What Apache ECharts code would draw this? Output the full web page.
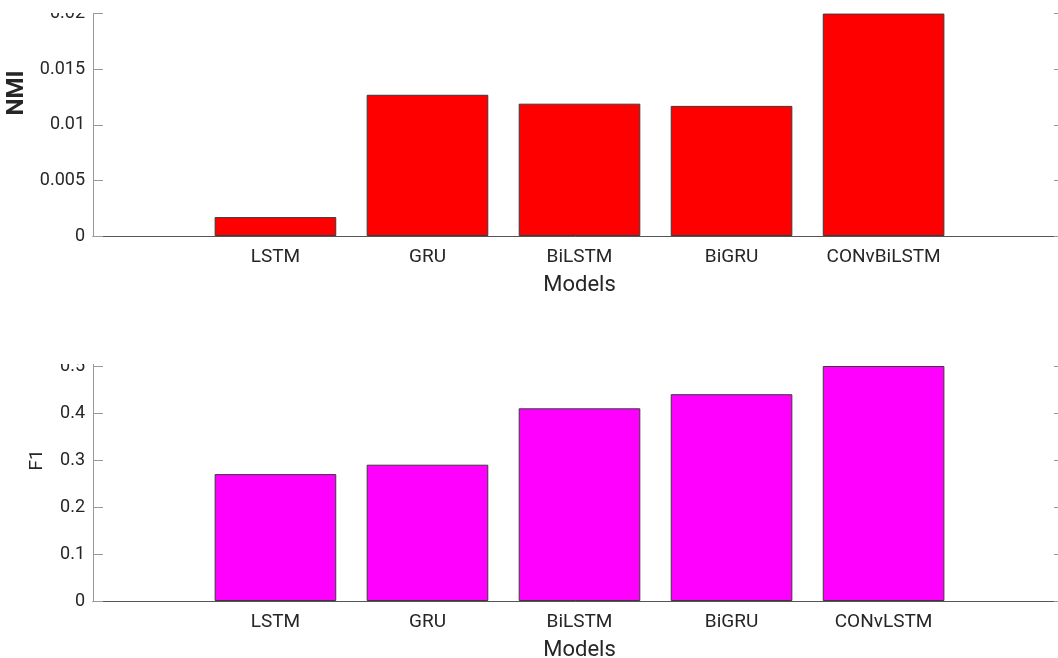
<!DOCTYPE html>
<html>
<head>
<meta charset="utf-8">
<script src="https://cdn.jsdelivr.net/npm/echarts@6/dist/echarts.min.js"></script>
<style>
  html, body { margin: 0; padding: 0; background: #fff; }
  #chart { width: 1058px; height: 658px; }
</style>
</head>
<body>
<div id="chart"></div>
<script>
// Model names for each panel
const nmiModels = ['LSTM', 'GRU', 'BiLSTM', 'BiGRU', 'CONvBiLSTM'];
const f1Models = ['LSTM', 'GRU', 'BiLSTM', 'BiGRU', 'CONvLSTM'];

// Scores per model
const nmiValues = [0.0017, 0.0127, 0.0119, 0.0117, 0.0200];
const f1Values = [0.27, 0.29, 0.41, 0.44, 0.50];

// Bar positions along the x axis (1..5)
const positions = [1, 2, 3, 4, 5];

const FONT = 'Roboto';
const TXT = '#262626';
const X_MIN = -0.2, X_MAX = 6.2;
const GRID_LEFT = 93, GRID_WIDTH = 973;
const barWidth = GRID_WIDTH * 0.8 / (X_MAX - X_MIN);

function pairs(vals) { return positions.map((p, i) => [p, vals[i]]); }

function xAxis(gridIndex, names) {
  return {
    type: 'value', gridIndex, min: X_MIN, max: X_MAX,
    name: 'Models', nameLocation: 'middle', nameGap: 38,
    nameTextStyle: { fontFamily: FONT, fontSize: 22, color: TXT },
    axisLine: { show: true, lineStyle: { color: '#555', width: 1 } },
    axisTick: { show: true, inside: true, length: 10, customValues: positions,
                lineStyle: { color: '#555' } },
    axisLabel: { show: true, customValues: positions, margin: 12,
                 fontFamily: FONT, fontSize: 19, color: TXT,
                 formatter: v => names[Math.round(v) - 1] || '' },
    splitLine: { show: false }
  };
}

function yAxes(gridIndex, max, interval, name, bold, nameSize, gap, pad) {
  return [{
    type: 'value', gridIndex, min: 0, max, interval, position: 'left',
    name, nameLocation: 'middle', nameGap: gap, nameRotate: 90,
    nameTextStyle: { fontFamily: FONT, fontSize: nameSize, color: TXT,
                     fontWeight: bold ? 'bold' : 'normal', padding: pad },
    axisLine: { show: true, onZero: false, lineStyle: { color: '#999', width: 1 } },
    axisTick: { show: true, inside: true, length: 10, lineStyle: { color: '#999' } },
    axisLabel: { margin: 8, fontFamily: FONT, fontSize: 18, color: TXT,
                 formatter: v => String(+v.toFixed(4)) },
    splitLine: { show: false }
  }, {
    type: 'value', gridIndex, min: 0, max, interval, position: 'right',
    axisLine: { show: true, onZero: false, lineStyle: { color: '#999', width: 1 } },
    axisTick: { show: true, inside: true, length: 12, lineStyle: { color: '#999' } },
    axisLabel: { show: false },
    splitLine: { show: false }
  }];
}

const chart = echarts.init(document.getElementById('chart'), null, { renderer: 'canvas' });

chart.setOption({
  animation: false,
  backgroundColor: '#fff',
  grid: [
    { left: GRID_LEFT, width: GRID_WIDTH, top: -42, height: 278,
      containLabel: false, outerBoundsMode: 'none' },
    { left: GRID_LEFT, width: GRID_WIDTH, top: 319, height: 282,
      containLabel: false, outerBoundsMode: 'none' }
  ],
  xAxis: [xAxis(0, nmiModels), xAxis(1, f1Models)],
  yAxis: [
    ...yAxes(0, 0.025, 0.005, 'NMI', true, 24, 50, [0, 0, 0, 8]),
    ...yAxes(1, 0.6, 0.1, 'F1', false, 19, 46, 0)
  ],
  series: [
    { type: 'bar', xAxisIndex: 0, yAxisIndex: 0, data: pairs(nmiValues), barWidth,
      itemStyle: { color: '#ff0000', borderColor: '#3a3a3a', borderWidth: 1 } },
    { type: 'bar', xAxisIndex: 1, yAxisIndex: 2, data: pairs(f1Values), barWidth,
      itemStyle: { color: '#ff00ff', borderColor: '#3a3a3a', borderWidth: 1 } }
  ],
  graphic: [
    { type: 'rect', z: 100, shape: { x: 0, y: 0, width: 1058, height: 13 },
      style: { fill: '#fff' } },
    { type: 'rect', z: 100, shape: { x: 0, y: 300, width: 1058, height: 64 },
      style: { fill: '#fff' } }
  ]
});
</script>
</body>
</html>
